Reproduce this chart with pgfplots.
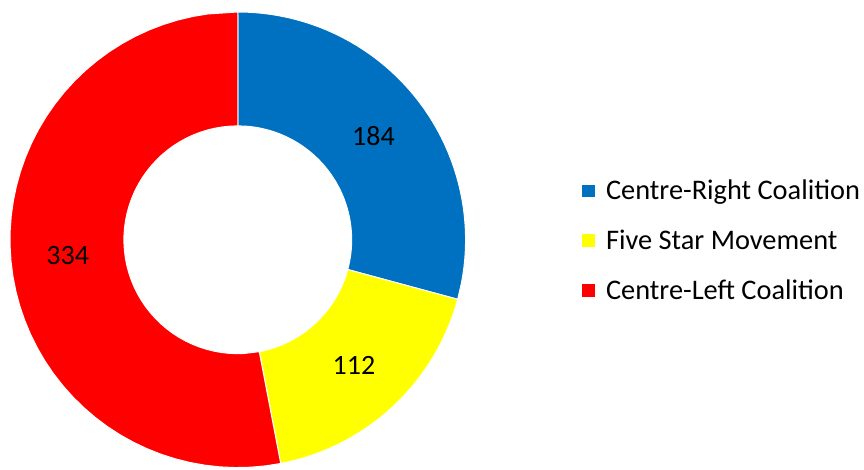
\documentclass[border=0pt]{standalone}
\usepackage{pgfplots}
\pgfplotsset{compat=1.18}
\usepackage{pgfplotstable}
\usepackage{fontspec}
\setmainfont{Carlito}
\definecolor{cblue}{HTML}{0070C0}
\definecolor{cyellow}{HTML}{FFFF00}
\definecolor{cred}{HTML}{FF0000}
\pgfplotstableread{
party value
CR 184
M5S 112
CL 334
}\seats
\newcommand\slice[3]{%
\addplot[fill=#3, draw=white, line width=0.5pt, variable=\t,
  samples at={0,0.02,...,0.98,1,2,2.02,...,2.98,3}]
  ({238+ifthenelse(\t<1.5,228,114)*cos(ifthenelse(\t<1.5,#1+(#2-#1)*min(\t,1),#2-(#2-#1)*min(\t-2,1)))},
   {230+ifthenelse(\t<1.5,228,114)*sin(ifthenelse(\t<1.5,#1+(#2-#1)*min(\t,1),#2-(#2-#1)*min(\t-2,1)))}) -- cycle;}
\begin{document}
\begin{tikzpicture}
\pgfplotstablegetelem{0}{value}\of\seats \let\vA\pgfplotsretval
\pgfplotstablegetelem{1}{value}\of\seats \let\vB\pgfplotsretval
\pgfplotstablegetelem{2}{value}\of\seats \let\vC\pgfplotsretval
\pgfmathsetmacro\tot{\vA+\vB+\vC}
\pgfmathsetmacro\aA{90}
\pgfmathsetmacro\aB{\aA-360*(\vA/\tot)}
\pgfmathsetmacro\aC{\aB-360*(\vB/\tot)}
\pgfmathsetmacro\aD{\aC-360*(\vC/\tot)}
\pgfmathsetmacro\mA{(\aA+\aB)/2}
\pgfmathsetmacro\mB{(\aB+\aC)/2}
\pgfmathsetmacro\mC{(\aC+\aD)/2}
\begin{axis}[
  width=432pt, height=235pt, scale only axis,
  xmin=0, xmax=864, ymin=0, ymax=470,
  hide axis, clip=false,
  font=\fontsize{14pt}{16pt}\selectfont,
  legend cell align=left,
  legend image code/.code={\fill[#1] (0pt,-3.4pt) rectangle (6.8pt,3.4pt);},
  legend style={at={(axis cs:582,229)}, anchor=west, draw=none, fill=none,
    inner sep=0pt, outer sep=0pt,
    font=\fontsize{14.2pt}{16pt}\selectfont, row sep=9.7pt,
    /tikz/every odd column/.append style={column sep=3pt}},
]
\path (rel axis cs:0,0) (rel axis cs:1,1);
\slice{\aA}{\aB}{cblue}
\addlegendentry{Centre-Right Coalition}
\slice{\aB}{\aC}{cyellow}
\addlegendentry{Five Star Movement}
\slice{\aC}{\aD}{cred}
\addlegendentry{Centre-Left Coalition}
\node at (axis cs:{238+171*cos(\mA)},{230+171*sin(\mA)}) {\vA};
\node at (axis cs:{238+171*cos(\mB)},{230+171*sin(\mB)}) {\vB};
\node at (axis cs:{238+171*cos(\mC)},{230+171*sin(\mC)}) {\vC};
\end{axis}
\end{tikzpicture}
\end{document}
